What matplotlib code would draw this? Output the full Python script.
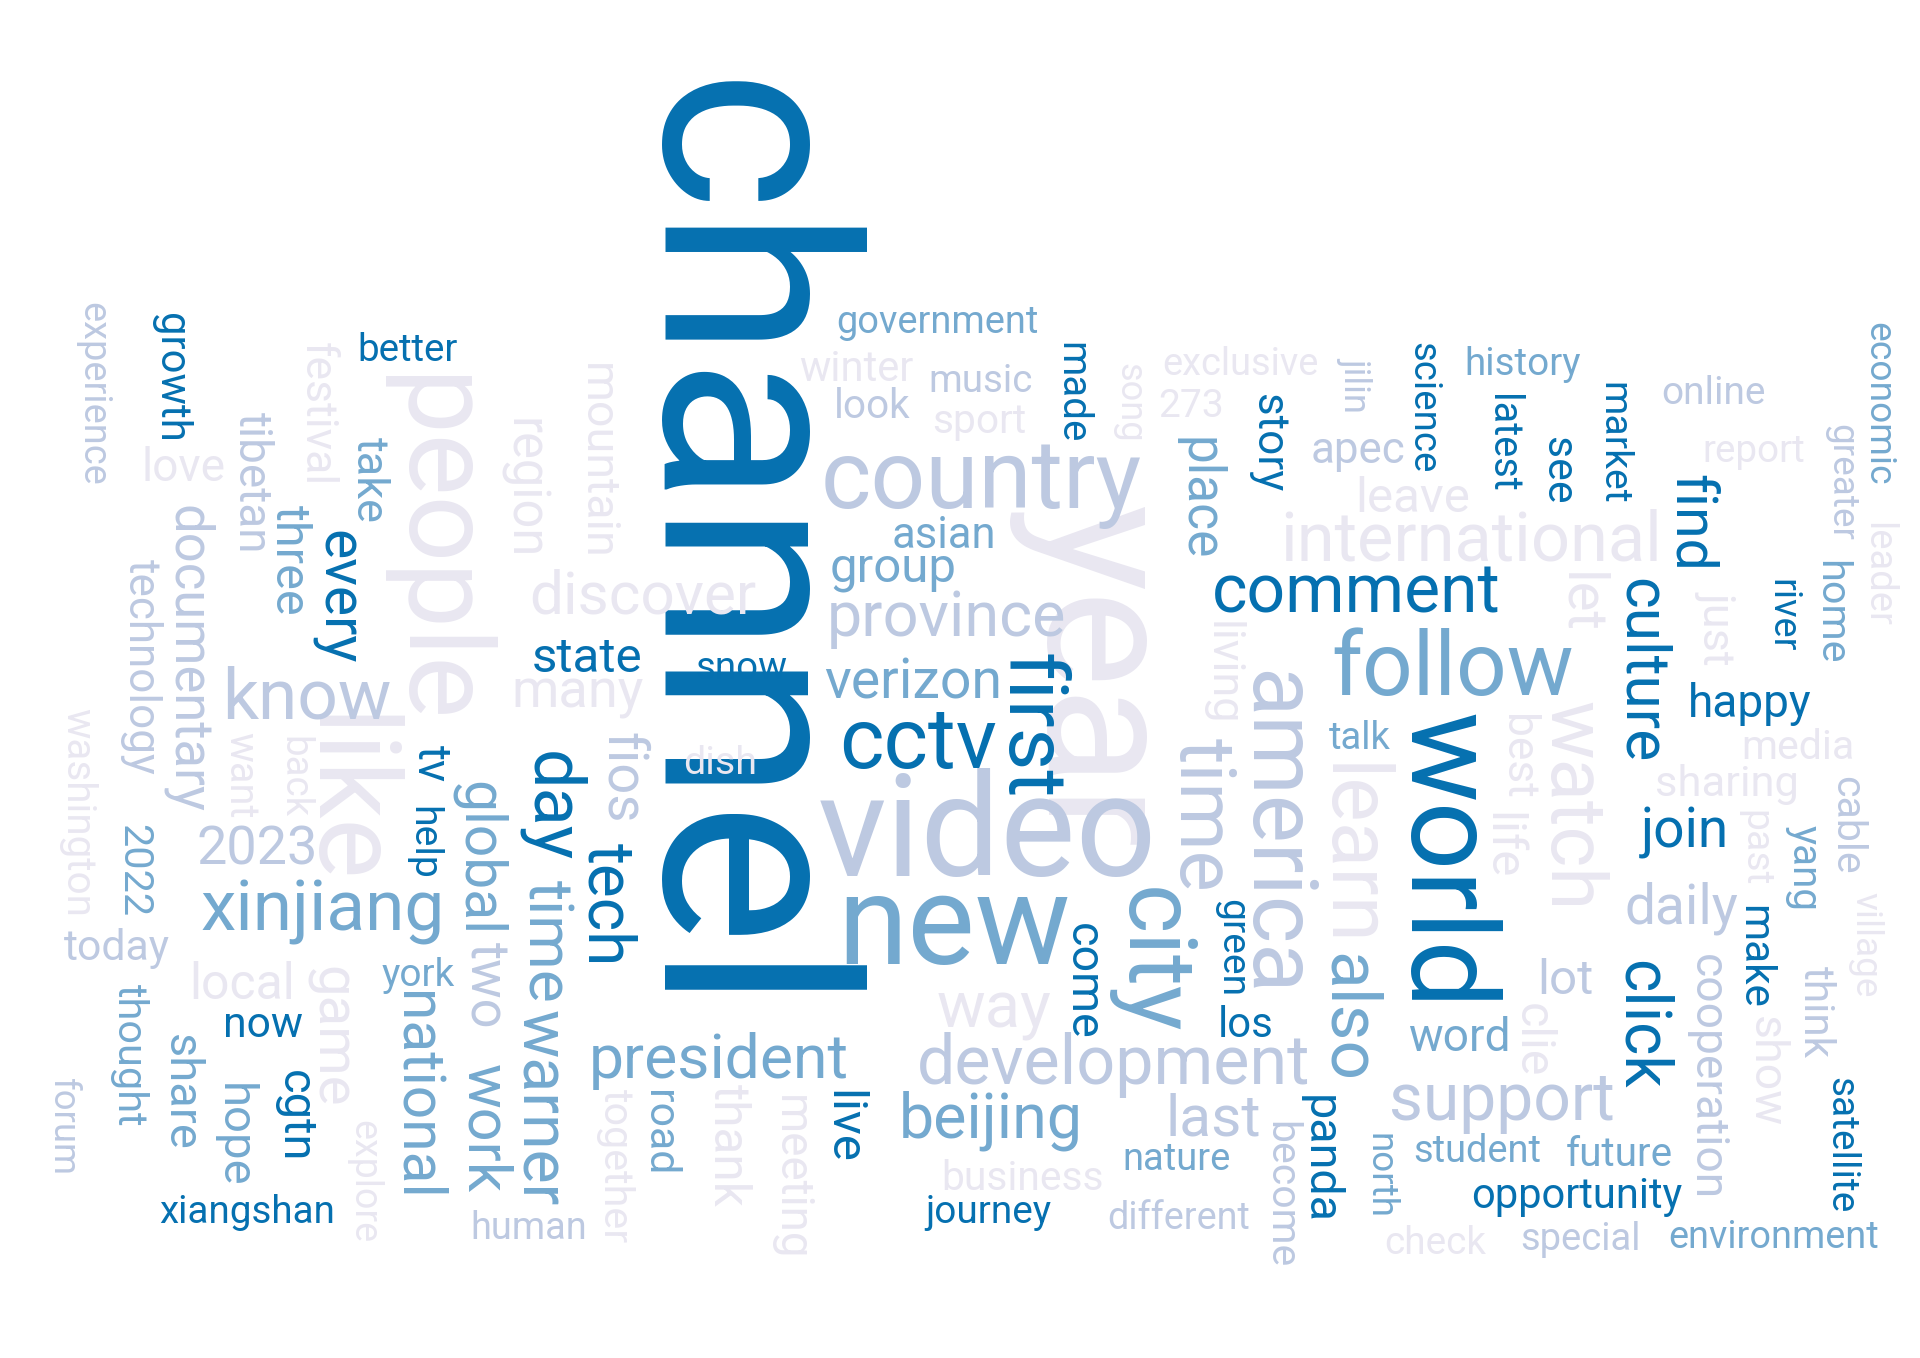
import matplotlib
matplotlib.use("Agg")
import matplotlib.pyplot as plt

# word cloud: words, colour class, and layout (centre x, centre y, length along text, vertical?)
# coordinates are in a 1560 x 1103 reference frame
D, M, L, V = "#0570b0", "#74a9cf", "#bdc9e1", "#e9e7f1"

words = [
    "channel", "experience", "growth", "festival", "tibetan", "people", "region", "mountain",
    "take", "three", "every", "documentary", "technology", "like", "washington", "want",
    "back", "tv", "help", "global", "two", "day", "time", "warner", "fios", "tech", "2022",
    "thought", "forum", "share", "hope", "cgtn", "game", "explore", "national", "work",
    "together", "road", "thank", "meeting", "live", "made", "song", "place", "year", "first",
    "living", "time", "green", "city", "come", "america", "learn", "also", "story", "jilin",
    "science", "latest", "see", "market", "find", "culture", "let", "watch", "world", "best",
    "life", "clie", "click", "just", "river", "greater", "home", "economic", "leader", "past",
    "yang", "cable", "village", "make", "cooperation", "think", "show", "satellite", "become",
    "panda", "north",
    "better", "love", "government", "winter", "music", "look", "sport", "exclusive", "273",
    "history", "online", "report", "apec", "leave", "country", "international", "asian",
    "group", "comment", "discover", "province", "state", "snow", "many", "verizon", "follow",
    "know", "happy", "media", "cctv", "dish", "talk", "sharing", "join", "2023", "video",
    "daily", "xinjiang", "new", "today", "york", "local", "lot", "way", "now", "los", "word",
    "president", "development", "support", "beijing", "last", "nature", "student", "future",
    "business", "opportunity", "xiangshan", "journey", "different", "human", "check",
    "special", "environment",
]

colors = [
    D, L, D, V, L, V, V, V, M, M, D, L, L, V, V, V,
    V, D, D, M, L, D, M, M, L, D, M,
    M, L, M, M, D, V, V, M, M,
    V, M, V, V, D, D, V, M, V, D,
    V, L, D, M, D, L, V, M, D, L,
    D, D, D, D, D, D, V, V, D, V,
    V, V, D, V, D, L, M, M, V, V,
    M, L, V, D, L, L, V, D, L,
    D, M,
    D, V, M, V, L, L, V, V, V,
    M, L, V, L, V, L, V, M,
    M, D, V, L, D, D, V, M, M,
    L, D, V, D, V, M, V, D, L, L,
    L, M, M, L, M, V, L, V, D, D, M,
    M, L, L, M, L, M, M, M,
    V, D, D, D, L, L, V,
    L, M,
]

layout = [
    (620, 448, 765, 1), (80, 320, 150, 1), (143, 307, 105, 1), (262, 336, 117, 1),
    (210, 392, 115, 1), (365, 447, 285, 1), (430, 397, 115, 1), (490, 375, 160, 1),
    (305, 390, 70, 1), (240, 455, 90, 1), (280, 485, 110, 1), (158, 535, 250, 1),
    (120, 542, 175, 1), (290, 650, 140, 1), (68, 660, 170, 1), (200, 630, 70, 1),
    (243, 631, 67, 1), (355, 620, 30, 1), (348, 685, 60, 1), (395, 697, 125, 1),
    (400, 800, 70, 1), (455, 655, 90, 1), (450, 765, 100, 1), (445, 900, 160, 1),
    (512, 632, 75, 1), (500, 735, 100, 1), (113, 707, 75, 1),
    (110, 857, 115, 1), (55, 915, 80, 1), (152, 887, 95, 1), (195, 922, 85, 1),
    (245, 907, 75, 1), (275, 842, 115, 1), (300, 960, 100, 1), (345, 890, 170, 1),
    (400, 917, 105, 1),
    (505, 947, 125, 1), (540, 920, 70, 1), (597, 930, 100, 1), (648, 957, 135, 1),
    (690, 915, 60, 1), (875, 319, 82, 1), (922, 327, 65, 1), (980, 405, 100, 1),
    (910, 550, 280, 1), (845, 590, 120, 1),
    (998, 547, 85, 1), (985, 662, 125, 1), (1005, 770, 80, 1), (945, 780, 120, 1),
    (885, 797, 95, 1), (1045, 677, 265, 1), (1105, 695, 150, 1), (1102, 827, 105, 1),
    (1035, 360, 80, 1), (1105, 312, 45, 1),
    (1160, 331, 107, 1), (1225, 360, 80, 1), (1270, 382, 55, 1), (1315, 360, 100, 1),
    (1380, 425, 80, 1), (1340, 545, 150, 1), (1290, 490, 50, 1), (1285, 655, 170, 1),
    (1185, 700, 240, 1), (1238, 615, 70, 1),
    (1225, 687, 55, 1), (1250, 845, 60, 1), (1340, 832, 105, 1), (1400, 510, 60, 1),
    (1452, 500, 60, 1), (1500, 392, 95, 1), (1492, 497, 85, 1), (1530, 328, 133, 1),
    (1530, 467, 85, 1), (1430, 689, 62, 1),
    (1470, 705, 70, 1), (1505, 670, 80, 1), (1520, 767, 85, 1), (1430, 777, 85, 1),
    (1392, 875, 200, 1), (1480, 822, 75, 1), (1440, 870, 90, 1), (1500, 930, 110, 1),
    (1045, 970, 120, 1),
    (1078, 942, 105, 1), (1125, 955, 70, 1),
    (331, 285, 82, 0), (149, 380, 68, 0), (762, 262, 165, 0), (696, 300, 93, 0),
    (797, 310, 85, 0), (709, 330, 62, 0), (796, 342, 77, 0), (1008, 296, 127, 0),
    (968, 330, 53, 0),
    (1237, 296, 95, 0), (1392, 320, 85, 0), (1425, 367, 84, 0), (1103, 366, 77, 0),
    (1148, 405, 93, 0), (797, 392, 261, 0), (1195, 440, 310, 0), (767, 435, 85, 0),
    (726, 462, 103, 0), (1102, 482, 235, 0), (522, 485, 185, 0), (769, 503, 195, 0),
    (477, 535, 90, 0), (602, 543, 75, 0), (469, 563, 108, 0), (742, 555, 145, 0),
    (1180, 545, 196, 0),
    (249, 568, 138, 0), (1422, 572, 101, 0), (1461, 607, 92, 0), (746, 605, 128, 0),
    (585, 620, 60, 0), (1105, 600, 50, 0), (1403, 637, 117, 0), (1369, 676, 72, 0),
    (209, 690, 98, 0), (802, 680, 275, 0),
    (1366, 738, 92, 0), (262, 740, 199, 0), (775, 755, 190, 0), (95, 770, 86, 0),
    (340, 792, 60, 0), (197, 800, 85, 0), (1272, 797, 45, 0), (808, 820, 93, 0),
    (214, 833, 65, 0), (1012, 833, 45, 0), (1186, 843, 83, 0),
    (584, 862, 212, 0), (905, 865, 320, 0), (1220, 895, 184, 0), (805, 910, 150, 0),
    (986, 910, 77, 0), (956, 942, 88, 0), (1200, 935, 104, 0), (1316, 938, 87, 0),
    (831, 957, 133, 0), (1281, 972, 172, 0), (201, 985, 143, 0), (803, 985, 103, 0),
    (958, 990, 117, 0), (430, 998, 95, 0), (1166, 1010, 83, 0),
    (1284, 1007, 98, 0), (1441, 1005, 172, 0),
]

W, H = 1560, 1103
fig = plt.figure(figsize=(19.2, 13.58), dpi=100)
ax = fig.add_axes([0, 0, 1, 1])
ax.set_xlim(0, W)
ax.set_ylim(H, 0)
ax.axis("off")

s = 1920 / W
fig.canvas.draw()
renderer = fig.canvas.get_renderer()
for w, c, (cx, cy, ext, vert) in zip(words, colors, layout):
    rot = 270 if vert else 0
    t = ax.text(cx, cy, w, color=c, fontsize=10, family="Roboto",
                rotation=rot, ha="center", va="center", rotation_mode="anchor")
    bb = t.get_window_extent(renderer)
    meas = bb.height if vert else bb.width
    fs = 10 * ext * s / meas
    t.set_fontsize(fs)
    if vert:
        # text box centre includes the descender, pull glyphs back onto the column
        em = fs * 100 / 72 / s
        t.set_x(cx - 0.14 * em)

fig.savefig("out.png", dpi=100, facecolor="white")
